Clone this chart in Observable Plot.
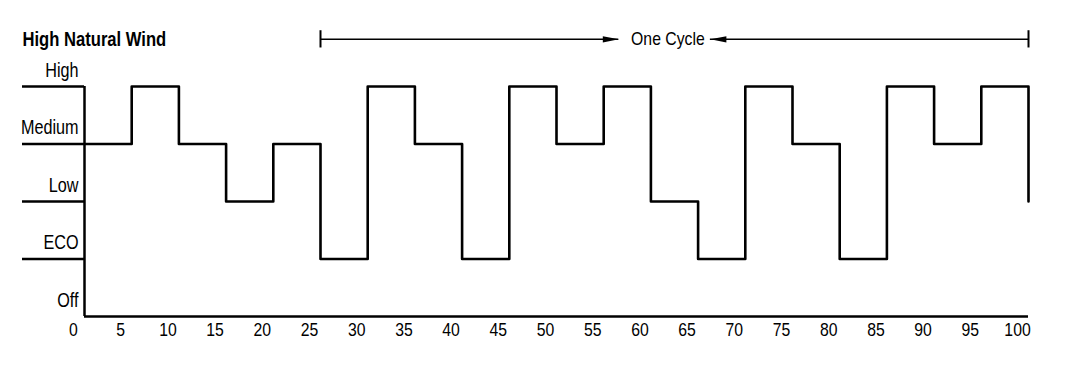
<!DOCTYPE html>
<html>
<head>
<meta charset="utf-8">
<script src="https://cdn.jsdelivr.net/npm/d3@7"></script>
<script src="https://cdn.jsdelivr.net/npm/@observablehq/plot@0.6"></script>
<style>
  html, body { margin: 0; padding: 0; background: #fff; }
  #chart svg { display: block; }
</style>
</head>
<body>
<div id="chart"></div>
<script>
// ---- data ----
const levelNames = ["Off", "ECO", "Low", "Medium", "High"];   // y = 0..4
const stepStarts = [0, 5, 10, 15, 20, 25, 30, 35, 40, 45, 50, 55, 60, 65, 70, 75, 80, 85, 90, 95, 100, 100];
const stepLevels = [3, 4, 3, 2, 3, 1, 4, 3, 1, 4, 3, 4, 2, 1, 4, 3, 1, 4, 3, 4, 4, 2];
const xTicks = [0, 5, 10, 15, 20, 25, 30, 35, 40, 45, 50, 55, 60, 65, 70, 75, 80, 85, 90, 95, 100];
const title = "High Natural Wind";
const cycleLabel = "One Cycle";
const cycleStart = 25, cycleEnd = 100;
const cycleY = 4.82;
const cycleLabelX = 61.8, arrowTipRight = 56.6, arrowTipLeft = 66.3;

const steps = stepStarts.map((x, i) => ({x, level: stepLevels[i]}));

const FONT = "'Liberation Sans Narrow', 'Arial Narrow', 'Liberation Sans', Arial, sans-serif";

const headRight = { draw(ctx) { ctx.moveTo(0, 0); ctx.lineTo(-16, -3.2); ctx.lineTo(-16, 3.2); ctx.closePath(); } };
const headLeft  = { draw(ctx) { ctx.moveTo(0, 0); ctx.lineTo(16, -3.2); ctx.lineTo(16, 3.2); ctx.closePath(); } };

const plot = Plot.plot({
  width: 1076,
  height: 365,
  marginLeft: 84,
  marginRight: 48,
  marginTop: 86,
  marginBottom: 49,
  style: { fontFamily: FONT, fontSize: "19.5px", color: "#000", background: "#fff", overflow: "visible" },
  x: { domain: [0, 100], label: null },
  y: { domain: [0, 4], label: null },
  marks: [
    // level tick lines on the left
    Plot.axisY({ ticks: [1, 2, 3, 4], tickSize: 62, tickFormat: () => "", label: null, strokeWidth: 2.5, stroke: "#000" }),
    // level labels
    Plot.axisY({ ticks: [0, 1, 2, 3, 4], tickSize: 0, tickPadding: 6, dy: -16, label: null,
                 tickFormat: d => levelNames[d], fontSize: 19.5, fill: "#000" }),
    // x tick labels
    Plot.axisX({ ticks: xTicks, tickSize: 0, tickPadding: 6, dx: -11, label: null, fontSize: 19, fill: "#000" }),
    // axis lines
    Plot.ruleY([0], { x1: 0, x2: 100, stroke: "#000", strokeWidth: 2.5 }),
    Plot.ruleX([0], { y1: 0, y2: 4, stroke: "#000", strokeWidth: 2.5 }),
    // step line
    Plot.line(steps, { x: "x", y: "level", curve: "step-after", stroke: "#000", strokeWidth: 2.6 }),
    // title
    Plot.text([title], { frameAnchor: "top-left", dx: -62, dy: -55, textAnchor: "start",
                         fontWeight: "bold", fontSize: 20, fill: "#000" }),
    // one cycle annotation
    Plot.ruleY([cycleY], { x1: cycleStart, x2: arrowTipRight, stroke: "#000", strokeWidth: 1.5 }),
    Plot.ruleY([cycleY], { x1: arrowTipLeft, x2: cycleEnd, stroke: "#000", strokeWidth: 1.5 }),
    Plot.ruleX([cycleStart, cycleEnd], { y1: cycleY - 0.15, y2: cycleY + 0.15, stroke: "#000", strokeWidth: 2 }),
    Plot.dot([arrowTipRight], { x: d => d, y: cycleY, symbol: headRight, fill: "#000", stroke: "none", r: 5 }),
    Plot.dot([arrowTipLeft], { x: d => d, y: cycleY, symbol: headLeft, fill: "#000", stroke: "none", r: 5 }),
    Plot.text([cycleLabel], { x: cycleLabelX, y: cycleY, fontSize: 19, fill: "#000" })
  ]
});
document.getElementById("chart").appendChild(plot);

// narrow the glyphs to imitate the condensed face of the original
d3.select(plot).selectAll("text").each(function() {
  const len = this.getComputedTextLength();
  if (len > 0) {
    this.setAttribute("textLength", (len * 0.83).toFixed(2));
    this.setAttribute("lengthAdjust", "spacingAndGlyphs");
  }
});
</script>
</body>
</html>
